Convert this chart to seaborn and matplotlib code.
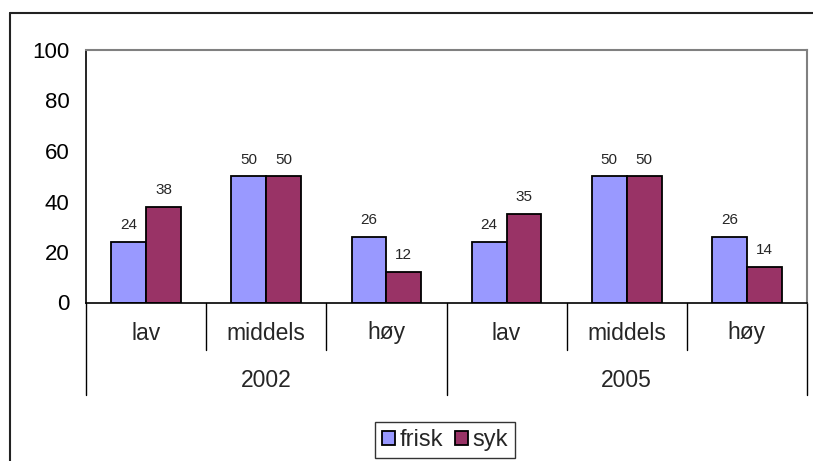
import pandas as pd
import matplotlib.pyplot as plt
from matplotlib.lines import Line2D
import seaborn as sns

# data
years = ['2002', '2005']
levels = ['lav', 'middels', 'høy']
frisk = [24, 50, 26, 24, 50, 26]
syk = [38, 50, 12, 35, 50, 14]

sns.set_style('white')
plt.rcParams['font.family'] = ['Liberation Sans', 'DejaVu Sans']

keys = [f'{y} {l}' for y in years for l in levels]
df = pd.DataFrame({
    'kategori': keys * 2,
    'prosent': frisk + syk,
    'gruppe': ['frisk'] * len(keys) + ['syk'] * len(keys),
})

W, H = 813, 461
fig = plt.figure(figsize=(W / 100, H / 100), dpi=100, facecolor='white')
left, right, top, bottom = 86, 807, 50, 302.5
ax = fig.add_axes([left / W, 1 - bottom / H, (right - left) / W, (bottom - top) / H])

sns.barplot(data=df, x='kategori', y='prosent', hue='gruppe', order=keys,
            palette=['#9999FF', '#993366'], saturation=1, width=0.58, gap=0,
            edgecolor='black', linewidth=1.3, ax=ax, legend=True)

# data labels
for cont in ax.containers:
    ax.bar_label(cont, padding=7, fontsize=11)

ax.set_ylim(0, 100)
ax.set_xlim(-0.5, len(keys) - 0.5)
ax.set_yticks(range(0, 101, 20))
ax.tick_params(axis='y', direction='out', length=5, width=1, colors='black',
               labelsize=16, pad=7)
ax.tick_params(axis='x', length=0, labelbottom=False)
ax.set_xlabel('')
ax.set_ylabel('')
for s in ['left', 'bottom']:
    ax.spines[s].set_color('black')
    ax.spines[s].set_linewidth(1.2)
for s in ['top', 'right']:
    ax.spines[s].set_color('#808080')
    ax.spines[s].set_linewidth(1.5)

# two-level category axis
ph = bottom - top
def yfrac(py):
    return (bottom - py) / ph

tr = ax.get_xaxis_transform()
for i in range(len(keys) + 1):
    x = i - 0.5
    long_line = i % len(levels) == 0
    y_end = yfrac(395) if long_line else yfrac(350)
    ax.add_line(Line2D([x, x], [0, y_end], transform=tr, color='black',
                       lw=1, clip_on=False))
for i, k in enumerate(keys):
    ax.text(i, yfrac(333), levels[i % len(levels)], transform=tr,
            ha='center', va='center', fontsize=16.5)
for j, y in enumerate(years):
    ax.text(j * len(levels) + (len(levels) - 1) / 2, yfrac(380), y,
            transform=tr, ha='center', va='center', fontsize=16.5)

# legend below
handles, labels = ax.get_legend_handles_labels()
ax.get_legend().remove()
leg = fig.legend(handles, labels, loc='center', bbox_to_anchor=(445 / W, 1 - 440 / H),
                 ncol=2, fontsize=17, frameon=True, fancybox=False,
                 edgecolor='black', handlelength=0.55, handleheight=0.55,
                 handletextpad=0.2, columnspacing=0.5, borderpad=0.3,
                 borderaxespad=0)
leg.get_frame().set_linewidth(1)

# outer chart frame (cut off on right and bottom)
fig.add_artist(Line2D([10 / W, 1], [1 - 13 / H, 1 - 13 / H],
                      transform=fig.transFigure, color='#222222', lw=1.5))
fig.add_artist(Line2D([10 / W, 10 / W], [1 - 13 / H, 0],
                      transform=fig.transFigure, color='#222222', lw=1.5))

fig.savefig('out.png', dpi=100, facecolor='white')
